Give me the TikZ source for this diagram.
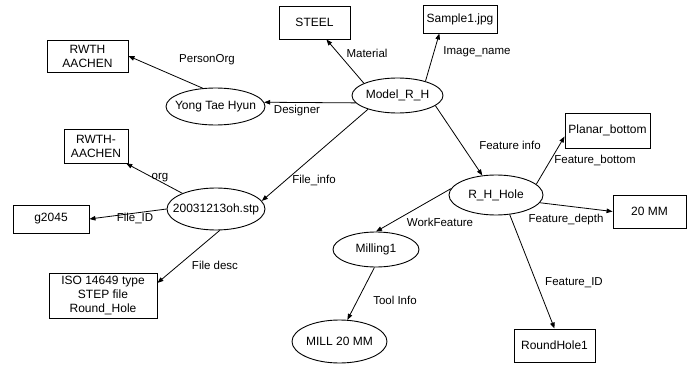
\documentclass[tikz,border=0pt]{standalone}
\usepackage{fontspec}
\setmainfont{Liberation Sans}
\usepackage{xcolor}
\usetikzlibrary{shapes.geometric,arrows.meta}
\definecolor{ink}{HTML}{000000}
\definecolor{paper}{HTML}{FFFFFF}
\tikzset{
  box/.style={draw=ink, line width=0.9pt, rectangle, inner sep=0pt, align=center, font=\fontsize{12}{14}\selectfont},
  ell/.style={draw=ink, line width=0.9pt, ellipse, inner sep=0pt, font=\fontsize{12}{14}\selectfont},
  link/.style={draw=ink, line width=0.8pt, -{Triangle[length=6pt,width=4.5pt]}},
  lab/.style={text=ink, inner sep=0pt, font=\fontsize{11.5}{13}\selectfont},
}
\newcommand{\zwbox}[1]{\makebox[0pt]{#1}}
\begin{document}
\begin{tikzpicture}[x=1pt,y=-1pt]
  \useasboundingbox[fill=paper] (0,0) rectangle (687,366);
  % value boxes
  \node[box, minimum width=81pt, minimum height=32pt] (rwthA) at (87.5,56) {RWTH\\AACHEN};
  \node[box, minimum width=71pt, minimum height=33pt] (steel) at (314.5,22.5) {STEEL};
  \node[box, minimum width=74pt, minimum height=28pt] (sample) at (460,19) {Sample1.jpg};
  \node[box, minimum width=85pt, minimum height=35pt] (planar) at (607.5,130.5) {Planar\_bottom};
  \node[box, minimum width=73pt, minimum height=33pt] (depth) at (649.5,211.5) {20 MM};
  \node[box, minimum width=81pt, minimum height=33pt] (roundhole) at (554.5,345.5) {RoundHole1};
  \node[box, minimum width=64pt, minimum height=34pt] (rwthB) at (96,146) {RWTH-\\AACHEN};
  \node[box, minimum width=76pt, minimum height=28pt] (gid) at (51,219) {g2045};
  \node[box, minimum width=108pt, minimum height=45pt] (iso) at (103,295.5) {ISO 14649 type\\STEP file\\Round\_Hole};
  % instances
  \node[ell, minimum width=99pt, minimum height=37pt] (yong) at (215.5,106.5) {\zwbox{Yong Tae Hyun}};
  \node[ell, minimum width=91pt, minimum height=35pt] (model) at (397.5,95.5) {\zwbox{Model\_R\_H}};
  \node[ell, minimum width=94pt, minimum height=40pt] (rh) at (496,195) {\zwbox{R\_H\_Hole}};
  \node[ell, minimum width=86pt, minimum height=35pt] (milling) at (376,249.5) {\zwbox{Milling1}};
  \node[ell, minimum width=95pt, minimum height=43pt] (mill) at (339.5,341.5) {\zwbox{MILL 20 MM}};
  \node[ell, minimum width=98pt, minimum height=42pt] (stp) at (216,209) {\zwbox{20031213oh.stp}};
  % relations
  \draw[link] (yong.125) -- (rwthA.east);
  \draw[link] (model.190) -- (yong.5);
  \draw[link] (model.160) -- (steel.-55);
  \draw[link] (model.27) -- (sample.-145);
  \draw[link] (model.-15) -- (rh.125);
  \draw[link] (model.-155) -- (stp.10);
  \draw[link] (stp.155) -- (rwthB.-30);
  \draw[link] (stp.west) -- (gid.east);
  \draw[link] (stp.-80) -- (iso.13);
  \draw[link] (rh.15) -- (planar.-172);
  \draw[link] (rh.-10) -- (depth.west);
  \draw[link] (rh.172) -- (milling.north);
  \draw[link] (milling.-95) -- (mill.70);
  \draw[link] (rh.-55) -- (roundhole.north);
  % relation names
  \node[lab] (lPersonOrg) at (207,60) {PersonOrg};
  \node[lab] (lDesigner) at (297,111) {Designer};
  \node[lab] (lMaterial) at (367,53) {Material};
  \node[lab] (lImage) at (477,52) {Image\_name};
  \node[lab] (lFeatInfo) at (510,145) {Feature info};
  \node[lab] (lFeatBottom) at (595,160) {Feature\_bottom};
  \node[lab] (lFileInfo) at (314,180) {File\_info};
  \node[lab] (lOrg) at (160,178) {org};
  \node[lab] (lFileID) at (135,218) {File\_ID};
  \node[lab] (lFileDesc) at (215,265) {File desc};
  \node[lab] (lWork) at (440,222) {WorkFeature};
  \node[lab] (lDepth) at (566,220) {Feature\_depth};
  \node[lab] (lTool) at (395,300) {Tool Info};
  \node[lab] (lFeatID) at (574,283) {Feature\_ID};
\end{tikzpicture}
\end{document}
